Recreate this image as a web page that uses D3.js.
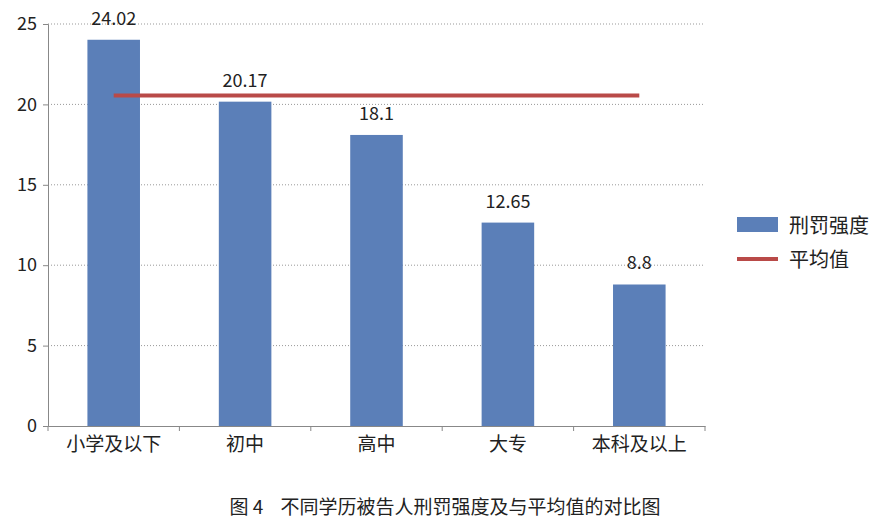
<!DOCTYPE html>
<html><head><meta charset="utf-8">
<script src="https://cdn.jsdelivr.net/npm/d3@7"></script>
<style>body{margin:0;background:#fff}</style>
</head><body>
<div id="chart"></div>
<script>
const categories = ["小学及以下", "初中", "高中", "大专", "本科及以上"];
const intensity = [24.02, 20.17, 18.1, 12.65, 8.8];
const average = [20.55, 20.55, 20.55, 20.55, 20.55];
const yTicks = [0, 5, 10, 15, 20, 25];

const width = 891, height = 526;
const margin = { top: 24, right: 186, bottom: 100, left: 48 };
const font = "'Noto Sans CJK SC', 'Noto Sans', sans-serif";

const svg = d3.select("#chart").append("svg")
	.attr("width", width).attr("height", height)
	.style("font-family", font);

const x = d3.scaleBand()
	.domain(categories)
	.range([margin.left, width - margin.right])
	.paddingInner(0.6).paddingOuter(0.3);

const xc = d3.scalePoint()
	.domain(categories)
	.range([margin.left, width - margin.right])
	.padding(0.5);

const y = d3.scaleLinear()
	.domain([0, 25])
	.range([height - margin.bottom, margin.top]);

// grid
svg.append("g")
	.selectAll("line")
	.data(yTicks.filter(d => d > 0))
	.join("line")
	.attr("x1", margin.left).attr("x2", width - margin.right)
	.attr("y1", d => y(d)).attr("y2", d => y(d))
	.attr("stroke", "#999").attr("stroke-dasharray", "1,2");

// y axis
svg.append("g")
	.attr("transform", `translate(${margin.left},0)`)
	.call(d3.axisLeft(y).tickValues(yTicks).tickSize(5).tickPadding(6))
	.call(g => g.selectAll("text").attr("font-size", 18).attr("fill", "#222").style("font-family", font))
	.call(g => g.selectAll("line,path").attr("stroke", "#888"));

// x axis
svg.append("g")
	.attr("transform", `translate(0,${y(0)})`)
	.call(d3.axisBottom(x).tickSize(0).tickPadding(12).tickSizeOuter(0))
	.call(g => g.selectAll("text").attr("font-size", 19).attr("fill", "#222").style("font-family", font))
	.call(g => g.selectAll("path").attr("stroke", "#888"));

// category separators
svg.append("g")
	.selectAll("line")
	.data(d3.range(categories.length + 1))
	.join("line")
	.attr("x1", i => margin.left + i * (width - margin.right - margin.left) / categories.length)
	.attr("x2", i => margin.left + i * (width - margin.right - margin.left) / categories.length)
	.attr("y1", y(0)).attr("y2", y(0) + 5)
	.attr("stroke", "#888");

// bars
svg.append("g")
	.selectAll("rect")
	.data(intensity)
	.join("rect")
	.attr("x", (d, i) => x(categories[i]))
	.attr("width", x.bandwidth())
	.attr("y", d => y(d))
	.attr("height", d => y(0) - y(d))
	.attr("fill", "#5b7fb8");

// labels
svg.append("g")
	.selectAll("text")
	.data(intensity)
	.join("text")
	.attr("x", (d, i) => x(categories[i]) + x.bandwidth() / 2)
	.attr("y", d => y(d) - 15)
	.attr("text-anchor", "middle")
	.attr("font-size", 18).attr("fill", "#222")
	.text(d => d);

// average line
svg.append("path")
	.datum(average)
	.attr("fill", "none")
	.attr("stroke", "#b94a48")
	.attr("stroke-width", 4)
	.attr("d", d3.line().x((d, i) => xc(categories[i])).y(d => y(d)));

// legend
const lg = svg.append("g").attr("transform", "translate(737,0)");
lg.append("rect").attr("x", 0).attr("y", 217).attr("width", 41).attr("height", 15).attr("fill", "#5b7fb8");
lg.append("text").attr("x", 52).attr("y", 233).attr("font-size", 20).attr("fill", "#222").text("刑罚强度");
lg.append("line").attr("x1", 0).attr("x2", 41).attr("y1", 259).attr("y2", 259)
	.attr("stroke", "#b94a48").attr("stroke-width", 4);
lg.append("text").attr("x", 52).attr("y", 267).attr("font-size", 20).attr("fill", "#222").text("平均值");

// caption
svg.append("text")
	.attr("x", 445).attr("y", 514)
	.attr("text-anchor", "middle")
	.attr("font-size", 19).attr("fill", "#222")
	.style("white-space", "pre")
	.text("图 4    不同学历被告人刑罚强度及与平均值的对比图");
</script>
</body></html>
